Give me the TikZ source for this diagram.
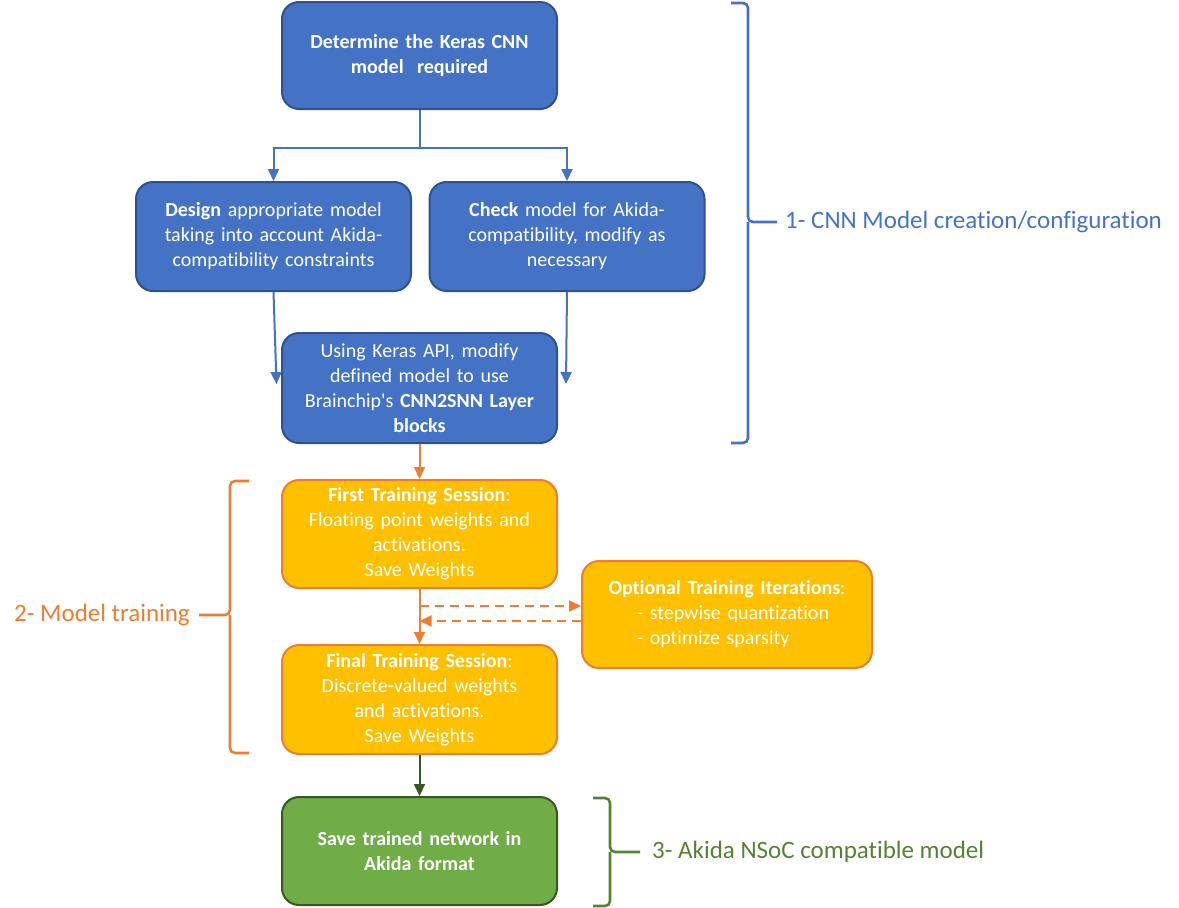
\documentclass[tikz,border=0pt]{standalone}
\usepackage{fontspec}
\setmainfont{Carlito}[Ligatures=CommonOff]
\usepackage{xcolor}
\usepackage{tikz}
\usetikzlibrary{shapes,arrows,arrows.meta,positioning,calc}

\definecolor{kblue}{HTML}{4472C4}
\definecolor{kblueline}{HTML}{2F528F}
\definecolor{korange}{HTML}{ED7D31}
\definecolor{kgold}{HTML}{FFC000}
\definecolor{kgreen}{HTML}{70AD47}
\definecolor{kgreenline}{HTML}{385723}
\definecolor{kgreentext}{HTML}{548235}

\begin{document}
\begin{tikzpicture}[x=1pt, y=-1pt,
    box/.style={rectangle, rounded corners=17pt, line width=2pt, text=white, align=center,
        inner sep=0pt, text width=265pt, minimum width=275pt, minimum height=108pt,
        font=\fontsize{20}{25}\selectfont},
    bluebox/.style={box, fill=kblue, draw=kblueline},
    orangebox/.style={box, fill=kgold, draw=korange},
    greenbox/.style={box, fill=kgreen, draw=kgreenline},
    arrow/.style={-{Triangle[length=12pt,width=11pt]}, line width=2pt},
    brace/.style={line width=2.6pt, rounded corners=5pt},
    bracelabel/.style={font=\fontsize{25}{30}\selectfont, inner sep=0pt}]

    \useasboundingbox (0,0) rectangle (1179,908);

    % stage 1
    \node[bluebox, minimum height=107pt] (keras) at (419.5,55.5) {\textbf{Determine the Keras CNN}\\\textbf{model\ \ required}};
    \node[bluebox, minimum height=109pt] (design) at (273.5,236.5) {\textbf{Design} appropriate model\\taking into account Akida-\\compatibility constraints};
    \node[bluebox, minimum height=109pt] (check) at (567,236.5) {\textbf{Check} model for Akida-\\compatibility, modify as\\necessary};
    \node[bluebox, minimum height=110pt] (convert) at (419.5,388) {Using Keras API, modify\\defined model to use\\Brainchip\textquotesingle s \textbf{CNN2SNN Layer}\\\textbf{blocks}};

    % stage 2
    \node[orangebox, below=35pt of convert] (first) {\textbf{First Training Session}:\\Floating point weights and\\activations.\\Save Weights};
    \node[orangebox, below=55pt of first, minimum height=109pt] (final) {\textbf{Final Training Session}:\\Discrete-valued weights\\and activations.\\Save Weights};
    \node[orangebox, text width=285pt, minimum width=290pt, minimum height=107pt] (optional) at (727,614.5)
        {\textbf{Optional Training Iterations}:\\\hspace*{20pt}\makebox[200pt][l]{- stepwise quantization}\\\hspace*{20pt}\makebox[200pt][l]{- optimize sparsity}};

    % stage 3
    \node[greenbox, below=41pt of final] (save) {\textbf{Save trained network in}\\\textbf{Akida format}};

    % connectors
    \coordinate (split) at ($(keras.south)+(0,38)$);
    \coordinate (designtip) at ($(design.south)+(3,92)$);
    \coordinate (checktip) at ($(check.south)+(-1,92)$);
    \coordinate (loopout) at ($(first.south)+(0,17)$);
    \coordinate (loopin) at ($(first.south)+(0,32)$);

    \draw[arrow, kblue] (keras.south) -- (split) -| (design.north);
    \draw[arrow, kblue] (split) -| (check.north);
    \draw[arrow, kblue] (design.south) -- (designtip);
    \draw[arrow, kblue] (check.south) -- (checktip);
    \draw[arrow, korange] (convert) -- (first);
    \draw[arrow, korange] (first) -- (final);
    \draw[arrow, korange, dash pattern=on 9pt off 6pt] (loopout) -- (loopout -| optional.west);
    \draw[arrow, korange, dash pattern=on 9pt off 6pt] (loopin -| optional.west) -- (loopin);
    \draw[arrow, kgreenline] (final) -- (save);

    % braces and stage labels
    \coordinate (tip1) at (777,222);
    \coordinate (tip2) at (199,615);
    \coordinate (tip3) at (640,852);
    \draw[brace, kblue] (731,3) -| (748,222) -- (tip1);
    \draw[brace, kblue] (731,443) -| (748,222);
    \draw[brace, korange] (249,481) -| (230,615) -- (tip2);
    \draw[brace, korange] (249,753) -| (230,615);
    \draw[brace, kgreentext] (593,798) -| (610,852) -- (tip3);
    \draw[brace, kgreentext] (593,906) -| (610,852);

    \node[bracelabel, right=8pt of tip1, text=kblue] (stage1) {1- CNN Model creation/configuration};
    \node[bracelabel, left=9pt of tip2, text=korange] (stage2) {2- Model training};
    \node[bracelabel, right=12pt of tip3, text=kgreentext] (stage3) {3- Akida NSoC compatible model};
\end{tikzpicture}
\end{document}
